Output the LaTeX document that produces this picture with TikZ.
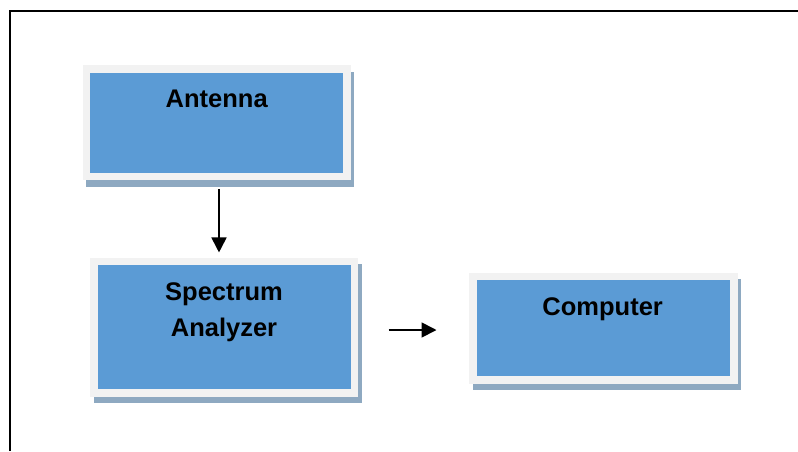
\documentclass[tikz,border=0pt]{standalone}
\usepackage{fontspec}
\setmainfont{Liberation Sans}
\usetikzlibrary{shadows,arrows.meta}
\definecolor{boxblue}{HTML}{5B9BD5}
\definecolor{boxgray}{HTML}{F2F2F2}
\definecolor{shadowc}{HTML}{8EA9C1}
\begin{document}
\begin{tikzpicture}[x=1pt,y=-1pt,
  outerbox/.style={fill=boxgray, draw=none, inner sep=0pt,
    drop shadow={shadow xshift=3.5pt, shadow yshift=-6.5pt, fill=shadowc, opacity=1}},
  innerbox/.style={fill=boxblue, draw=none, inner sep=0pt},
  lbl/.style={font=\fontsize{25.5}{36}\selectfont\bfseries, align=center, inner sep=0pt},
  arr/.style={-{Triangle[length=15pt,width=15pt]}, line width=1.8pt}]
\useasboundingbox (0,0) rectangle (798,451);
\draw[line width=2pt] (9.5,451) -- (9.5,10.5) -- (798,10.5);
% Antenna
\node[outerbox, minimum width=268pt, minimum height=115pt] (ant) at (216.7,122.5) {};
\node[innerbox, minimum width=253pt, minimum height=100pt] (antin) at (ant.center) {};
\node[lbl, anchor=base] (antt) at (216.7,107.7) {Antenna};
% Spectrum Analyzer
\node[outerbox, minimum width=268pt, minimum height=138.7pt] (sa) at (224,327.3) {};
\node[innerbox, minimum width=253pt, minimum height=123.7pt] (sain) at (sa.center) {};
\node[lbl] (sat) at (224,312) {Spectrum\\Analyzer};
% Computer
\node[outerbox, minimum width=268.4pt, minimum height=111.3pt] (comp) at (603.5,328.3) {};
\node[innerbox, minimum width=253.4pt, minimum height=96.3pt] (compin) at (comp.center) {};
\node[lbl, anchor=base] (compt) at (602.7,315) {Computer};
% arrows
\draw[arr] ([xshift=2.3pt,yshift=-9pt]ant.south) -- ([xshift=-5pt,yshift=5.3pt]sa.north);
\draw[arr] ([xshift=30.3pt,yshift=-2.7pt]sa.east) -- ([xshift=-32.6pt,yshift=-1.7pt]comp.west);
\end{tikzpicture}
\end{document}
